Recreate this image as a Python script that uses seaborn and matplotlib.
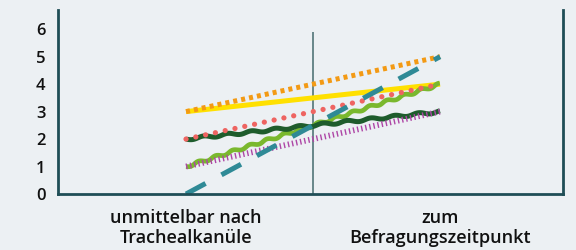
import matplotlib
matplotlib.use("Agg")
import matplotlib.pyplot as plt
import seaborn as sns
import pandas as pd

categories = ["unmittelbar nach\nTrachealkanüle", "zum\nBefragungszeitpunkt"]
series_names = ["Orange", "Gelb", "Rot", "Dunkelgrün", "Hellgrün", "Lila", "Petrol"]
orange_vals = [3, 5]
gelb_vals = [3, 4]
rot_vals = [2, 4]
dunkelgruen_vals = [2, 3]
hellgruen_vals = [1, 4]
lila_vals = [1, 3]
petrol_vals = [0, 5]
y_ticks = [0, 1, 2, 3, 4, 5, 6]

values = {
    "Orange": orange_vals, "Gelb": gelb_vals, "Rot": rot_vals,
    "Dunkelgrün": dunkelgruen_vals, "Hellgrün": hellgruen_vals,
    "Lila": lila_vals, "Petrol": petrol_vals,
}
rows = []
for s in series_names:
    for c, v in zip(categories, values[s]):
        rows.append({"Zeitpunkt": c, "Wert": v, "Reihe": s})
df = pd.DataFrame(rows)

bg = "#ECF0F3"
spine_c = "#1F4E56"
sns.set_theme(style="white")
plt.rcParams["font.family"] = ["Open Sans", "DejaVu Sans"]
plt.rcParams["lines.scale_dashes"] = False

fig = plt.figure(figsize=(5.76, 2.5), dpi=100, facecolor=bg)
ax = fig.add_axes([58/576, 1-194/250, (563-58)/576, (194-10)/250])
ax.set_facecolor(bg)

styles = {
    "Gelb":       dict(color="#FFE000", lw=3.6, dashes=None, cap="butt", sketch=None),
    "Hellgrün":   dict(color="#7AB82E", lw=3.4, dashes=None, cap="butt", sketch=(1.3, 18)),
    "Dunkelgrün": dict(color="#1E5C2C", lw=3.6, dashes=None, cap="butt", sketch=(1.2, 24)),
    "Lila":       dict(color="#AE46A6", lw=4.2, dashes=(1.0, 2.0), cap="butt", sketch=None),
    "Rot":        dict(color="#EE6461", lw=3.8, dashes=(0.01, 7.2), cap="round", sketch=None),
    "Orange":     dict(color="#F39A14", lw=3.6, dashes=(2.9, 2.9), cap="butt", sketch=None),
    "Petrol":     dict(color="#2F8A96", lw=3.6, dashes=(16, 13), cap="butt", sketch=None),
}
order = ["Gelb", "Hellgrün", "Dunkelgrün", "Lila", "Rot", "Orange", "Petrol"]
for s in order:
    st = styles[s]
    sub = df[df["Reihe"] == s]
    sns.lineplot(data=sub, x="Zeitpunkt", y="Wert", ax=ax, color=st["color"],
                 lw=st["lw"], legend=False, sort=False)
    ln = ax.lines[-1]
    ln.set_solid_capstyle(st["cap"])
    ln.set_dash_capstyle(st["cap"])
    if st["dashes"] is not None:
        ln.set_dashes(st["dashes"])
    if st["sketch"] is not None:
        ln.set_sketch_params(scale=st["sketch"][0], length=st["sketch"][1], randomness=1)

ax.vlines(0.5, 0, 5.9, color="#5E7E82", lw=1.3, zorder=1)

ax.set_xlim(-0.504, 1.484)
ax.set_ylim(0, 6.7)
ax.set_yticks(y_ticks)
ax.set_xticks([0, 1])
ax.set_xticklabels(categories, fontsize=13, fontweight="semibold", color="#111111",
                   linespacing=1.2)
ax.tick_params(axis="y", labelsize=12, colors="#111111", length=0, pad=9)
for t in ax.get_yticklabels():
    t.set_fontweight("semibold")
ax.tick_params(axis="x", length=0, pad=10.5)
ax.set_xlabel("")
ax.set_ylabel("")
for side in ["left", "bottom", "right"]:
    ax.spines[side].set_visible(True)
    ax.spines[side].set_color(spine_c)
    ax.spines[side].set_linewidth(2.0)
ax.spines["top"].set_visible(False)

fig.savefig("out.png", dpi=100, facecolor=bg)
